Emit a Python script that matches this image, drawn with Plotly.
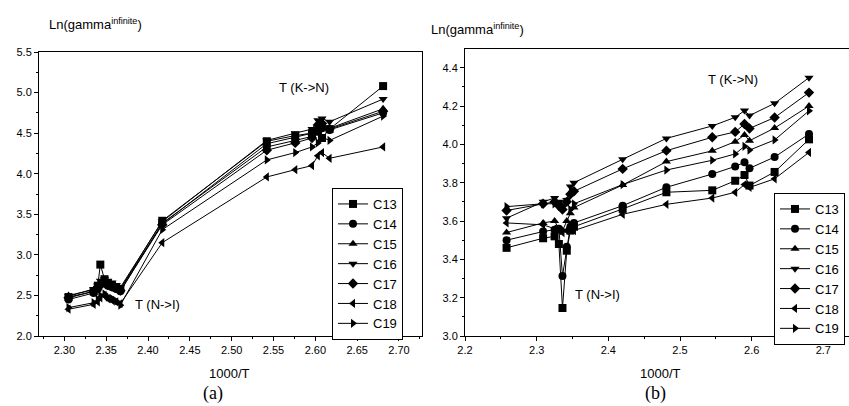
import plotly.graph_objects as go

names = ["C13", "C14", "C15", "C16", "C17", "C18", "C19"]
symbols = ["square", "circle", "triangle-up", "triangle-down", "diamond", "triangle-left", "triangle-right"]

# Panel (a)
xa = [2.305, 2.335, 2.340, 2.343, 2.348, 2.352, 2.357, 2.362, 2.367, 2.417,
      2.542, 2.576, 2.596, 2.603, 2.608, 2.617, 2.681]
a_C13 = [2.48, 2.55, 2.62, 2.88, 2.70, 2.65, 2.62, 2.60, 2.58, 3.42, 4.40, 4.47, 4.50, 4.52, 4.44, 4.55, 5.08]
a_C14 = [2.45, 2.53, 2.58, 2.63, 2.66, 2.62, 2.60, 2.58, 2.55, 3.39, 4.33, 4.41, 4.46, 4.52, 4.56, 4.54, 4.75]
a_C15 = [2.50, 2.57, 2.60, 2.66, 2.68, 2.64, 2.62, 2.60, 2.58, 3.38, 4.37, 4.45, 4.50, 4.58, 4.60, 4.56, 4.80]
a_C16 = [2.49, 2.58, 2.62, 2.68, 2.70, 2.68, 2.66, 2.63, 2.60, 3.41, 4.41, 4.50, 4.55, 4.66, 4.68, 4.64, 4.92]
a_C17 = [2.47, 2.55, 2.60, 2.64, 2.66, 2.63, 2.61, 2.59, 2.56, 3.37, 4.29, 4.38, 4.44, 4.60, 4.62, 4.55, 4.77]
a_C18 = [2.33, 2.39, 2.42, 2.47, 2.50, 2.46, 2.44, 2.42, 2.40, 3.15, 3.96, 4.05, 4.10, 4.22, 4.26, 4.19, 4.33]
a_C19 = [2.35, 2.41, 2.45, 2.50, 2.52, 2.48, 2.46, 2.43, 2.38, 3.31, 4.17, 4.26, 4.33, 4.38, 4.45, 4.41, 4.71]

# Panel (b)
xb = [2.258, 2.309, 2.325, 2.331, 2.336, 2.342, 2.347, 2.352, 2.420, 2.481,
      2.545, 2.577, 2.590, 2.597, 2.632, 2.680]
b_C13 = [3.46, 3.51, 3.52, 3.48, 3.146, 3.445, 3.55, 3.57, 3.663, 3.75, 3.76, 3.81, 3.84, 3.785, 3.856, 4.026]
b_C14 = [3.50, 3.545, 3.555, 3.56, 3.313, 3.466, 3.57, 3.59, 3.68, 3.776, 3.845, 3.885, 3.906, 3.875, 3.934, 4.054]
b_C15 = [3.54, 3.59, 3.60, 3.56, 3.55, 3.60, 3.64, 3.67, 3.788, 3.91, 3.966, 4.014, 4.049, 4.019, 4.085, 4.20]
b_C16 = [3.615, 3.70, 3.72, 3.70, 3.67, 3.71, 3.78, 3.80, 3.922, 4.031, 4.096, 4.141, 4.176, 4.15, 4.214, 4.348]
b_C17 = [3.655, 3.69, 3.70, 3.68, 3.66, 3.70, 3.74, 3.755, 3.872, 3.967, 4.037, 4.065, 4.106, 4.083, 4.14, 4.27]
b_C18 = [3.59, 3.58, 3.56, 3.55, 3.54, 3.55, 3.555, 3.55, 3.635, 3.687, 3.72, 3.75, 3.79, 3.775, 3.82, 3.958]
b_C19 = [3.675, 3.69, 3.69, 3.69, 3.68, 3.70, 3.66, 3.69, 3.79, 3.866, 3.917, 3.95, 3.99, 3.97, 4.023, 4.175]

series_a = [a_C13, a_C14, a_C15, a_C16, a_C17, a_C18, a_C19]
series_b = [b_C13, b_C14, b_C15, b_C16, b_C17, b_C18, b_C19]

W, H = 849, 406
FONT = "Liberation Sans, Arial, sans-serif"
fig = go.Figure()

for n, s, ys in zip(names, symbols, series_a):
    fig.add_trace(go.Scatter(x=xa, y=ys, name=n, mode="lines+markers",
                             line=dict(color="black", width=1),
                             marker=dict(symbol=s, size=8, color="black"),
                             xaxis="x", yaxis="y", legend="legend"))
for n, s, ys in zip(names, symbols, series_b):
    fig.add_trace(go.Scatter(x=xb, y=ys, name=n, mode="lines+markers",
                             line=dict(color="black", width=1),
                             marker=dict(symbol=s, size=8, color="black"),
                             xaxis="x2", yaxis="y2", legend="legend2"))

def px_x(p):
    return p / W

def px_y(p):
    return (H - p) / H

axis_common = dict(showline=True, linecolor="black", linewidth=1, mirror=True,
                   ticks="outside", ticklen=4, tickcolor="black", showgrid=False,
                   zeroline=False, tickfont=dict(family=FONT, size=11, color="black"))

fig.update_layout(
    width=W, height=H, margin=dict(l=0, r=0, t=0, b=0, autoexpand=False),
    paper_bgcolor="white", plot_bgcolor="white",
    font=dict(family=FONT, color="black"),
    xaxis=dict(domain=[px_x(39), px_x(422)], range=[2.2697, 2.7275], anchor="y",
               tickmode="linear", tick0=2.30, dtick=0.05, tickformat=".2f",
               minor=dict(ticks="outside", ticklen=2, dtick=0.025, tick0=2.30, tickcolor="black"),
               **axis_common),
    yaxis=dict(domain=[px_y(336), px_y(52)], range=[2.0, 5.5], anchor="x",
               tickmode="linear", tick0=2.0, dtick=0.5, tickformat=".1f",
               minor=dict(ticks="outside", ticklen=2, dtick=0.25, tick0=2.0, tickcolor="black"),
               **axis_common),
    xaxis2=dict(domain=[px_x(465), 1.0], range=[2.2, 2.7358], anchor="y2",
                tickmode="linear", tick0=2.2, dtick=0.1, tickformat=".1f",
                minor=dict(ticks="outside", ticklen=2, dtick=0.05, tick0=2.2, tickcolor="black"),
                **axis_common),
    yaxis2=dict(domain=[px_y(336), px_y(49)], range=[3.0, 4.4975], anchor="x2",
                tickmode="linear", tick0=3.0, dtick=0.2, tickformat=".1f",
                minor=dict(ticks="outside", ticklen=2, dtick=0.1, tick0=3.0, tickcolor="black"),
                **axis_common),
    legend=dict(x=px_x(332), y=px_y(188), xanchor="left", yanchor="top",
                bordercolor="black", borderwidth=1, bgcolor="white",
                font=dict(family=FONT, size=13, color="black"), tracegroupgap=0),
    legend2=dict(x=px_x(774), y=px_y(193), xanchor="left", yanchor="top",
                 bordercolor="black", borderwidth=1, bgcolor="white",
                 font=dict(family=FONT, size=13, color="black"), tracegroupgap=0),
    showlegend=True,
)

def ann(text, x, y, size=13, family=FONT, xanchor="center"):
    fig.add_annotation(text=text, x=px_x(x), y=px_y(y), xref="paper", yref="paper",
                       showarrow=False, xanchor=xanchor, yanchor="middle",
                       font=dict(family=family, size=size, color="black"))

ann("Ln(gamma<sup>infinite</sup>)", 47, 24, xanchor="left")
ann("Ln(gamma<sup>infinite</sup>)", 429, 29, xanchor="left")
ann("T (K->N)", 304, 88)
ann("T (N->I)", 157, 304)
ann("T (K->N)", 733, 79)
ann("T (N->I)", 597, 294)
ann("1000/T", 230, 373, size=13)
ann("1000/T", 660, 373, size=13)
ann("(a)", 213, 393, size=18, family="Liberation Serif, Times New Roman, serif")
ann("(b)", 655, 393, size=18, family="Liberation Serif, Times New Roman, serif")

fig.write_html("out.html", config={"displayModeBar": False},
               post_script="document.body.style.margin='0';document.body.style.overflow='hidden';")
